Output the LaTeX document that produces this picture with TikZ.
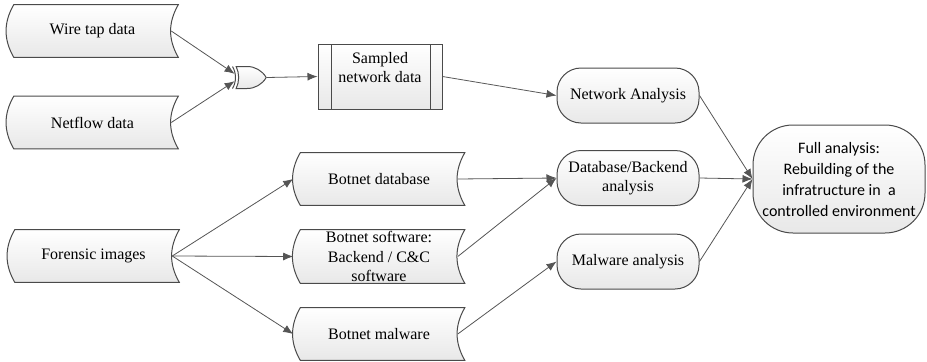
\documentclass[tikz,border=0pt]{standalone}
\usepackage{fontspec}
\setmainfont{Liberation Serif}
\newfontfamily\calibrifont{Carlito}
\usetikzlibrary{arrows.meta, positioning, shapes.misc, shapes.gates.logic.US, backgrounds}
\definecolor{edgegray}{HTML}{4A4A4A}
\definecolor{linegray}{HTML}{555555}
\tikzset
{
store/.style={minimum width=128.25pt, minimum height=39pt, inner sep=1pt, align=center},
storeshape/.style={draw=edgegray, line width=0.75pt, top color=white, bottom color=black!9},
proc/.style={draw=edgegray, line width=0.75pt, top color=white, bottom color=black!9,
	minimum width=93pt, minimum height=48.75pt, align=center,
	path picture={
		\draw[edgegray, line width=0.75pt]
		([xshift=10pt]path picture bounding box.north west) -- ([xshift=10pt]path picture bounding box.south west)
		([xshift=-9pt]path picture bounding box.north east) -- ([xshift=-9pt]path picture bounding box.south east);
	}},
analysis/.style={draw=edgegray, line width=0.75pt, rounded corners=18pt, top color=white, bottom color=black!9,
	minimum width=106.5pt, minimum height=41.25pt, align=center},
full/.style={analysis, rounded corners=30pt, minimum width=129pt, minimum height=81pt,
	font=\calibrifont\fontsize{12}{15.75}\selectfont},
orgate/.style={xor gate US, draw=edgegray, line width=0.75pt, top color=white, bottom color=black!9,
	logic gate inputs=nn, minimum width=21pt, minimum height=14.25pt, inner sep=0pt},
flow/.style={->, color=linegray, line width=0.6pt},
>={Latex[length=7.5pt, width=6pt]}
}

\begin{document}
\begin{tikzpicture}[x=0.75pt, y=-0.75pt, font=\fontsize{12}{14.6}\selectfont]
	\useasboundingbox (0,0) rectangle (927,361);

	% sources
	\node[store] (wire) at (92.5,31) {Wire tap data};
	\node[store] (netflow) at (92.5,122.5) {Netflow data};
	\node[store] (forensic) at (93.5,256) {Forensic images};
	\node[orgate] (gate) at (249,77.5) {};
	\node[proc] (sampled) at (380,76.5) {Sampled\\network data\\[-5pt]\strut};

	% extracted material
	\node[store] (bdb) at (379,179) {Botnet database};
	\node[store] (bsw) at (379,256.5) {Botnet software:\\Backend / C\&C\\software};
	\node[store] (bmal) at (379,334) {Botnet malware};

	% analyses
	\node[analysis] (netan) at (628,95.5) {Network Analysis};
	\node[analysis] (dban) at (628,178) {Database/Backend\\analysis};
	\node[analysis] (malan) at (628,261.5) {Malware analysis};
	\node[full] (full) at (839,179) {Full analysis:\\Rebuilding of the\\infratructure in~ a\\controlled environment};

	\begin{scope}[on background layer]
		\foreach \n in {wire, netflow, forensic, bdb, bsw, bmal}
			\path[storeshape] ([xshift=5.25pt]\n.north west) to[bend right=30] ([xshift=5.25pt]\n.south west)
				-- (\n.south east) to[bend left=30] (\n.north east) -- cycle;
	\end{scope}

	\path[flow] ([xshift=-5.25pt]wire.east) edge (gate.input 1)
		([xshift=-5.25pt]netflow.east) edge (gate.input 2)
		(gate.output) edge (sampled.west)
		(sampled.east) edge (netan.west);
	\path[flow] ([xshift=-5.25pt]forensic.east) edge (bdb.west)
		([xshift=-5.25pt]forensic.east) edge (bsw.west)
		([xshift=-5.25pt]forensic.east) edge (bmal.west);
	\path[flow] ([xshift=-5.25pt]bdb.east) edge (dban.west)
		([xshift=-5.25pt]bsw.east) edge (dban.west)
		([xshift=-5.25pt]bmal.east) edge (malan.west);
	\path[flow] (netan.east) edge (full.west)
		(dban.east) edge (full.west)
		(malan.east) edge (full.west);
\end{tikzpicture}
\end{document}
